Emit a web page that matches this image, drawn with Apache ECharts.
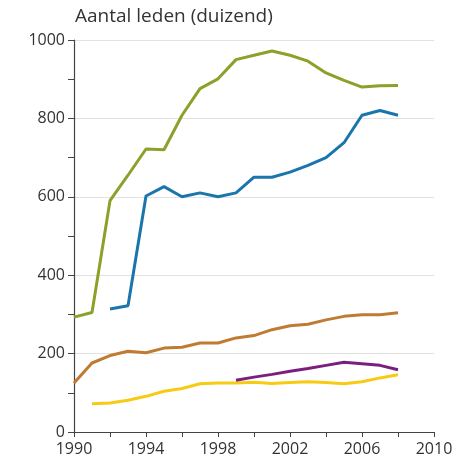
<!DOCTYPE html>
<html>
<head>
<meta charset="UTF-8">
<script src="https://cdn.jsdelivr.net/npm/echarts@6/dist/echarts.min.js"></script>
<style>body{margin:0;background:#fff}</style>
</head>
<body>
<div id="main" style="width:457px;height:470px;"></div>
<script>
var years = [1990,1991,1992,1993,1994,1995,1996,1997,1998,1999,2000,2001,2002,2003,2004,2005,2006,2007,2008];
var green  = [293,305,590,655,722,720,808,876,901,950,961,972,961,946,916,897,880,883,884];
var blue   = [null,null,314,322,602,626,600,610,600,610,650,650,663,680,700,738,808,820,808];
var orange = [125,176,195,206,202,214,216,227,227,240,246,261,271,275,286,295,299,299,304];
var yellow = [null,72,74,81,91,104,111,123,125,125,127,124,126,128,126,123,128,138,146];
var purple = [null,null,null,null,null,null,null,null,null,132,140,147,155,162,170,178,174,170,159];

function pairs(arr) {
  var out = [];
  for (var i = 0; i < years.length; i++) {
    if (arr[i] != null) out.push([years[i], arr[i]]);
  }
  return out;
}

var myChart = echarts.init(document.getElementById('main'));

function line(data, color) {
  return {
    type: 'line',
    data: pairs(data),
    symbol: 'none',
    lineStyle: { color: color, width: 3 },
    itemStyle: { color: color }
  };
}

var labelStyle = { fontFamily: 'Open Sans', fontSize: 16, color: '#333', margin: 9,
  formatter: function (v) { return String(v); } };

myChart.setOption({
  animation: false,
  title: {
    text: 'Aantal leden (duizend)',
    left: 70, top: 2,
    textStyle: { fontFamily: 'Open Sans', fontWeight: 'normal', fontSize: 19, color: '#333' }
  },
  grid: { left: 74, right: 23, top: 40, bottom: 38 },
  xAxis: {
    type: 'value', min: 1990, max: 2010, interval: 4,
    axisLine: { lineStyle: { color: '#444', width: 1.2 } },
    axisTick: { length: 5, lineStyle: { color: '#444' } },
    minorTick: { show: true, splitNumber: 2, length: 5, lineStyle: { color: '#444' } },
    splitLine: { show: false },
    axisLabel: labelStyle
  },
  yAxis: {
    type: 'value', min: 0, max: 1000, interval: 200,
    axisLine: { show: true, lineStyle: { color: '#444', width: 1.2 } },
    axisTick: { show: true, length: 6, lineStyle: { color: '#444' } },
    minorTick: { show: true, splitNumber: 2, length: 6, lineStyle: { color: '#444' } },
    splitLine: { show: true, lineStyle: { color: '#e2e2e2' } },
    axisLabel: labelStyle
  },
  series: [
    line(green, '#8aa12a'),
    line(blue, '#1b75ad'),
    line(orange, '#c07b32'),
    line(yellow, '#f7cb14'),
    line(purple, '#7b1f7f')
  ]
});
</script>
</body>
</html>
